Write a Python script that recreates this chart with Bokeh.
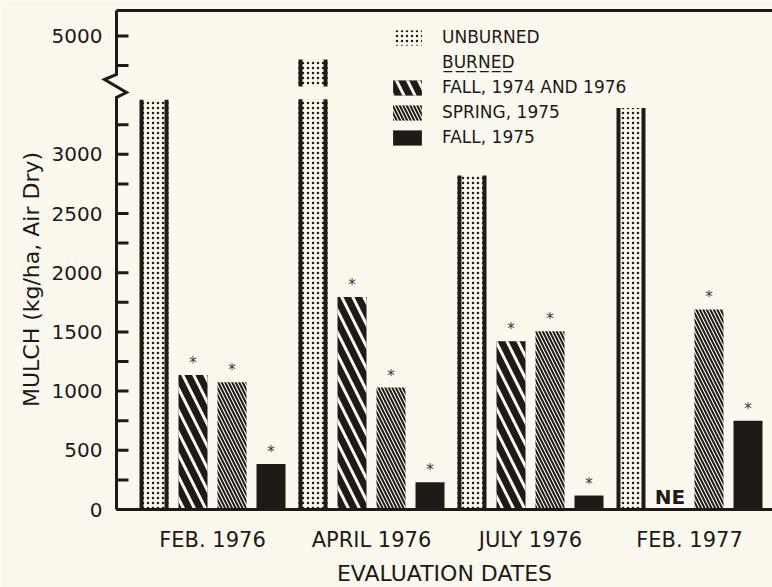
import math
from bokeh.plotting import figure
from bokeh.models import (Range1d, Legend, LegendItem, Label, ColumnDataSource)
from bokeh.core.properties import value
from bokeh.embed import file_html
from bokeh.resources import INLINE

# ---------------- data ----------------
dates = ["FEB. 1976", "APRIL 1976", "JULY 1976", "FEB. 1977"]
unburned = [3460, 4800, 2820, 3390]
fall_74_76 = [1135, 1795, 1420, None]      # None = not evaluated (NE)
spring_75 = [1075, 1030, 1505, 1690]
fall_75 = [385, 230, 118, 750]

y_tick_values = [0, 250, 500, 750, 1000, 1250, 1500, 1750, 2000, 2250,
                 2500, 2750, 3000, 3250, 4750, 5000]
y_tick_labels = ["0", "", "500", "", "1000", "", "1500", "", "2000", "",
                 "2500", "", "3000", "", "", "5000"]

legend_labels = ["UNBURNED", "BURNED", "FALL, 1974 AND 1976", "SPRING, 1975", "FALL, 1975"]
x_title = "EVALUATION DATES"
y_title = "MULCH (kg/ha, Air Dry)"

# ---------------- styling / layout ----------------
INK = "#1d1a17"
BG = "#fbf8ee"
STAR = "#3e3a36"
FONT = "DejaVu Sans"

BREAK_LO, BREAK_HI = 3500, 4500          # broken axis: 3500..4500 removed
def disp(v):
    return v if v <= BREAK_LO else v - (BREAK_HI - BREAK_LO)

GAP_LO, GAP_HI = 3465, 3572               # gap drawn in bars crossing the break (display units)

W, H = 772, 587
PX_GROUP = 159.0          # pixels between evaluation-date groups
GROUP0_PX = 212.0         # pixel x of first group centre
AXIS_PX = 116.0           # pixel x of value axis
BASE_PX = 509.0           # pixel y of zero line
PX_PER_UNIT = 59.2 / 500

def px(n):
    return n / PX_GROUP
def gx(x_pixel):
    return (x_pixel - GROUP0_PX) / PX_GROUP
def py(y_pixel):
    return (BASE_PX - y_pixel) / PX_PER_UNIT

X0, X1 = gx(0), gx(W)
AXIS_X = gx(AXIS_PX)
BAR_PITCH = px(39)
BAR_W = px(29)
STRIP = px(4)

p = figure(width=W, height=H, output_backend="svg", toolbar_location=None,
           x_range=Range1d(X0, X1), y_range=Range1d(py(H), py(0)),
           x_axis_location=None, y_axis_location=None, min_border=0)
p.background_fill_color = BG
p.border_fill_color = BG
p.outline_line_color = None
p.grid.visible = False

groups = list(range(len(dates)))
def xs(i):
    return [g + (i - 1.5) * BAR_PITCH for g in groups]

# unburned bars (dotted, black sides), split at the axis break
ub_x, ub_bot, ub_top = [], [], []
for x, v in zip(xs(0), unburned):
    d = disp(v)
    if v > BREAK_HI:
        ub_x += [x, x]; ub_bot += [0, GAP_HI]; ub_top += [GAP_LO, d]
    else:
        ub_x.append(x); ub_bot.append(0); ub_top.append(d)
ub_src = ColumnDataSource(dict(x=ub_x, bottom=ub_bot, top=ub_top,
                               xl=[x - BAR_W / 2 + STRIP / 2 for x in ub_x],
                               xr=[x + BAR_W / 2 - STRIP / 2 for x in ub_x]))
r_ub = p.vbar(x="x", bottom="bottom", top="top", width=BAR_W, source=ub_src,
              fill_color=BG, line_color=None, hatch_pattern="dot",
              hatch_color=INK, hatch_scale=5, hatch_weight=2)
p.vbar(x="xl", bottom="bottom", top="top", width=STRIP, source=ub_src,
       fill_color=INK, line_color=None)
p.vbar(x="xr", bottom="bottom", top="top", width=STRIP, source=ub_src,
       fill_color=INK, line_color=None)

# fall 1974 & 1976
f1_x = [x for x, v in zip(xs(1), fall_74_76) if v is not None]
f1_v = [v for v in fall_74_76 if v is not None]
r_f1 = p.vbar(x=f1_x, top=f1_v, width=BAR_W, fill_color=INK, line_color=None,
              hatch_pattern="\\", hatch_color=BG, hatch_scale=22, hatch_weight=3)

# spring 1975
r_sp = p.vbar(x=xs(2), top=spring_75, width=BAR_W, fill_color=BG, line_color=None,
              hatch_pattern="\\", hatch_color=INK, hatch_scale=7, hatch_weight=2)

# fall 1975
r_f5 = p.vbar(x=xs(3), top=fall_75, width=BAR_W, fill_color=INK, line_color=None)

# dummy renderer for legend heading
r_dummy = p.vbar(x=[], top=[], width=BAR_W, fill_alpha=0, line_alpha=0)

# significance asterisks
st_x, st_y = [], []
for i, series in ((1, fall_74_76), (2, spring_75), (3, fall_75)):
    for x, v in zip(xs(i), series):
        if v is not None:
            st_x.append(x); st_y.append(v)
p.text(x=st_x, y=st_y, text=["*"] * len(st_x), text_font=value(FONT),
       text_font_size="15px", text_color=STAR, text_align="center",
       text_baseline="middle", y_offset=-12)

# NE marker
ne_x = [x for x, v in zip(xs(1), fall_74_76) if v is None]
p.text(x=ne_x, y=[0] * len(ne_x), text=["NE"] * len(ne_x), text_font=value(FONT),
       text_font_size="20px", text_font_style="bold", text_color=INK,
       text_align="center", text_baseline="bottom", y_offset=-1)

# ---------------- axes (drawn by hand: broken value axis) ----------------
tick_y = [disp(v) for v in y_tick_values]
p.segment(x0=[AXIS_X] * len(tick_y), y0=tick_y, x1=[AXIS_X + px(12)] * len(tick_y),
          y1=tick_y, line_width=3, line_color=INK)
lab_y = [disp(v) for v, s in zip(y_tick_values, y_tick_labels) if s]
lab_t = [s for s in y_tick_labels if s]
p.text(x=[AXIS_X - px(14)] * len(lab_y), y=lab_y, text=lab_t, text_font=value(FONT),
       text_font_size="20px", text_color=INK, text_align="right", text_baseline="middle")

# value axis line with the break zig-zag
p.line(x=[AXIS_X, AXIS_X, AXIS_X + px(10), AXIS_X - px(12), AXIS_X, AXIS_X],
       y=[0, py(97), py(92), py(79), py(74), py(10)],
       line_width=3, line_color=INK, line_join="miter")
# zero line and top frame line
p.segment(x0=[AXIS_X, AXIS_X], y0=[0, py(10)], x1=[X1, X1], y1=[0, py(10)],
          line_width=3, line_color=INK)

# category labels
p.text(x=groups, y=[py(539)] * len(groups), text=dates, text_font=value(FONT),
       text_font_size="21px", text_color=INK, text_align="center", text_baseline="middle")

# axis titles
p.add_layout(Label(x=(AXIS_X + X1) / 2, y=py(573), text=x_title,
                   text_align="center", text_baseline="middle",
                   text_font=FONT, text_font_size="22px", text_color=INK))
p.add_layout(Label(x=AXIS_X - px(85), y=py(279), text=y_title, angle=math.pi / 2,
                   text_align="center", text_baseline="middle",
                   text_font=FONT, text_font_size="22px", text_color=INK))

# ---------------- legend ----------------
burned_head = "".join(c + "\u0332" for c in legend_labels[1])
legend = Legend(items=[
    LegendItem(label=legend_labels[0], renderers=[r_ub]),
    LegendItem(label=burned_head, renderers=[r_dummy]),
    LegendItem(label=legend_labels[2], renderers=[r_f1]),
    LegendItem(label=legend_labels[3], renderers=[r_sp]),
    LegendItem(label=legend_labels[4], renderers=[r_f5]),
], location=(389, 440), padding=0, spacing=5, label_height=20, glyph_height=19,
    glyph_width=36, label_standoff=17, border_line_color=None,
    background_fill_alpha=0, label_text_font=FONT, label_text_font_size="17px",
    label_text_color=INK, margin=0)
p.add_layout(legend, "center")

open("out.html", "w").write(file_html(p, INLINE))
